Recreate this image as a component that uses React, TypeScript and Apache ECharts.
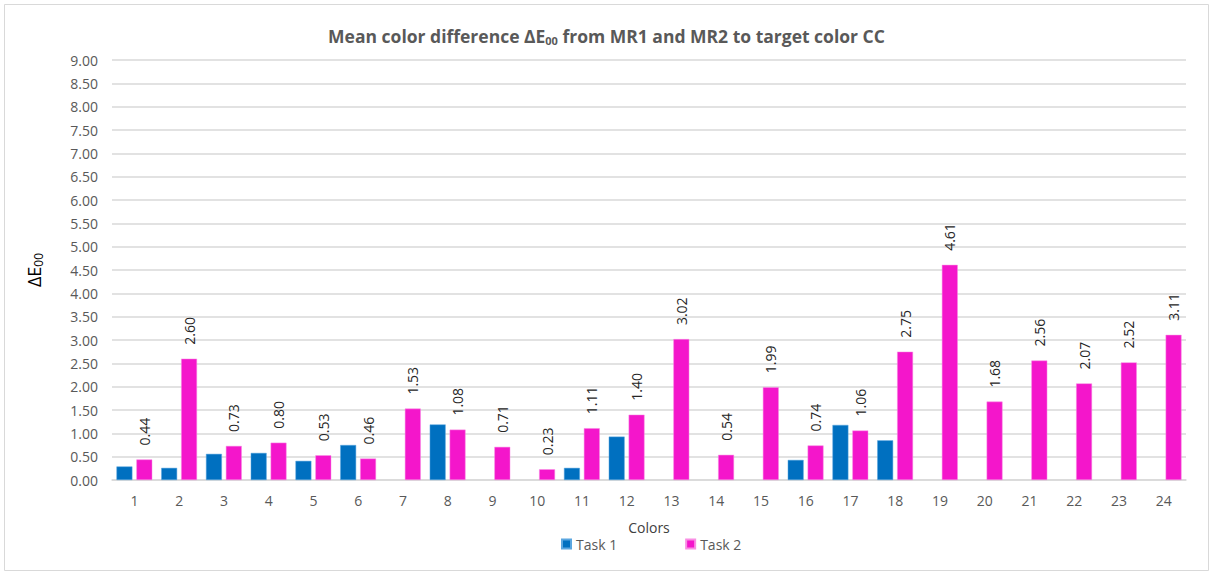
import React, { useEffect, useRef } from "react";
import * as echarts from "echarts";

const categories = ["1","2","3","4","5","6","7","8","9","10","11","12","13","14","15","16","17","18","19","20","21","22","23","24"];
const task1 = [0.29, 0.26, 0.56, 0.58, 0.41, 0.75, null, 1.19, null, null, 0.26, 0.93, null, null, null, 0.43, 1.18, 0.85, null, null, null, null, null, null];
const task2 = [0.44, 2.60, 0.73, 0.80, 0.53, 0.46, 1.53, 1.08, 0.71, 0.23, 1.11, 1.40, 3.02, 0.54, 1.99, 0.74, 1.06, 2.75, 4.61, 1.68, 2.56, 2.07, 2.52, 3.11];

const FONT = "'Open Sans', 'Noto Sans', sans-serif";

export default function App() {
  const ref = useRef<HTMLDivElement>(null);
  useEffect(() => {
    document.body.style.margin = "0";
    const chart = echarts.init(ref.current!, null, { renderer: "svg" });
    chart.setOption({
      animation: false,
      textStyle: { fontFamily: FONT },
      title: {
        text: "Mean color difference ΔE{sub|00} from MR1 and MR2 to target color CC",
        left: "center",
        top: 21,
        textStyle: {
          fontSize: 17.5,
          fontWeight: "bold",
          color: "#595959",
          fontFamily: FONT,
          rich: {
            sub: { fontSize: 11, fontWeight: "bold", color: "#595959", padding: [9, 0, 0, 0], fontFamily: FONT },
          },
        },
      },
      graphic: [
        {
          type: "rect",
          shape: { x: 4.5, y: 4.5, width: 1204, height: 566 },
          style: { fill: "none", stroke: "#d9d9d9", lineWidth: 1 },
        },
      ],
      legend: {
        left: 556,
        top: 532,
        itemWidth: 9,
        itemHeight: 9,
        itemGap: 68,
        icon: "rect",
        textStyle: { fontSize: 14, color: "#595959", fontFamily: FONT },
        data: ["Task 1", "Task 2"],
      },
      grid: { left: 112, right: 27, top: 60, bottom: 92, containLabel: false },
      xAxis: {
        type: "category",
        data: categories,
        name: "Colors",
        nameLocation: "middle",
        nameGap: 40,
        nameTextStyle: { fontSize: 14, color: "#404040", fontFamily: FONT },
        axisLine: { lineStyle: { color: "#d9d9d9", width: 1.5 } },
        axisTick: { show: false },
        axisLabel: { fontSize: 14, color: "#595959", margin: 13, fontFamily: FONT },
      },
      yAxis: {
        type: "value",
        min: 0,
        max: 9,
        interval: 0.5,
        name: "ΔE{sub|00}",
        nameLocation: "middle",
        nameRotate: 90,
        nameGap: 68,
        nameTextStyle: {
          fontSize: 18,
          color: "#000000",
          fontFamily: FONT,
          rich: { sub: { fontSize: 12, color: "#000000", padding: [9, 0, 0, 0], fontFamily: FONT } },
        },
        axisLine: { show: false },
        axisTick: { show: false },
        splitLine: { lineStyle: { color: "#d9d9d9", width: 1.5 } },
        axisLabel: {
          fontSize: 14,
          color: "#595959",
          margin: 14,
          fontFamily: FONT,
          formatter: (v: number) => v.toFixed(2),
        },
      },
      series: [
        {
          name: "Task 1",
          type: "bar",
          data: task1,
          barGap: "25%",
          barCategoryGap: "20%",
          itemStyle: { color: "#0070c0", borderColor: "#5aa6e0", borderWidth: 0.5 },
        },
        {
          name: "Task 2",
          type: "bar",
          data: task2,
          itemStyle: { color: "#f416cb", borderColor: "#f98ee4", borderWidth: 0.5 },
          label: {
            show: true,
            position: "top",
            rotate: 90,
            align: "left",
            verticalAlign: "middle",
            distance: 14,
            fontSize: 14,
            color: "#262626",
            fontFamily: FONT,
            formatter: (p: any) => Number(p.value).toFixed(2),
          },
        },
      ],
    });
    return () => chart.dispose();
  }, []);
  return <div ref={ref} style={{ width: 1213, height: 572 }} />;
}
